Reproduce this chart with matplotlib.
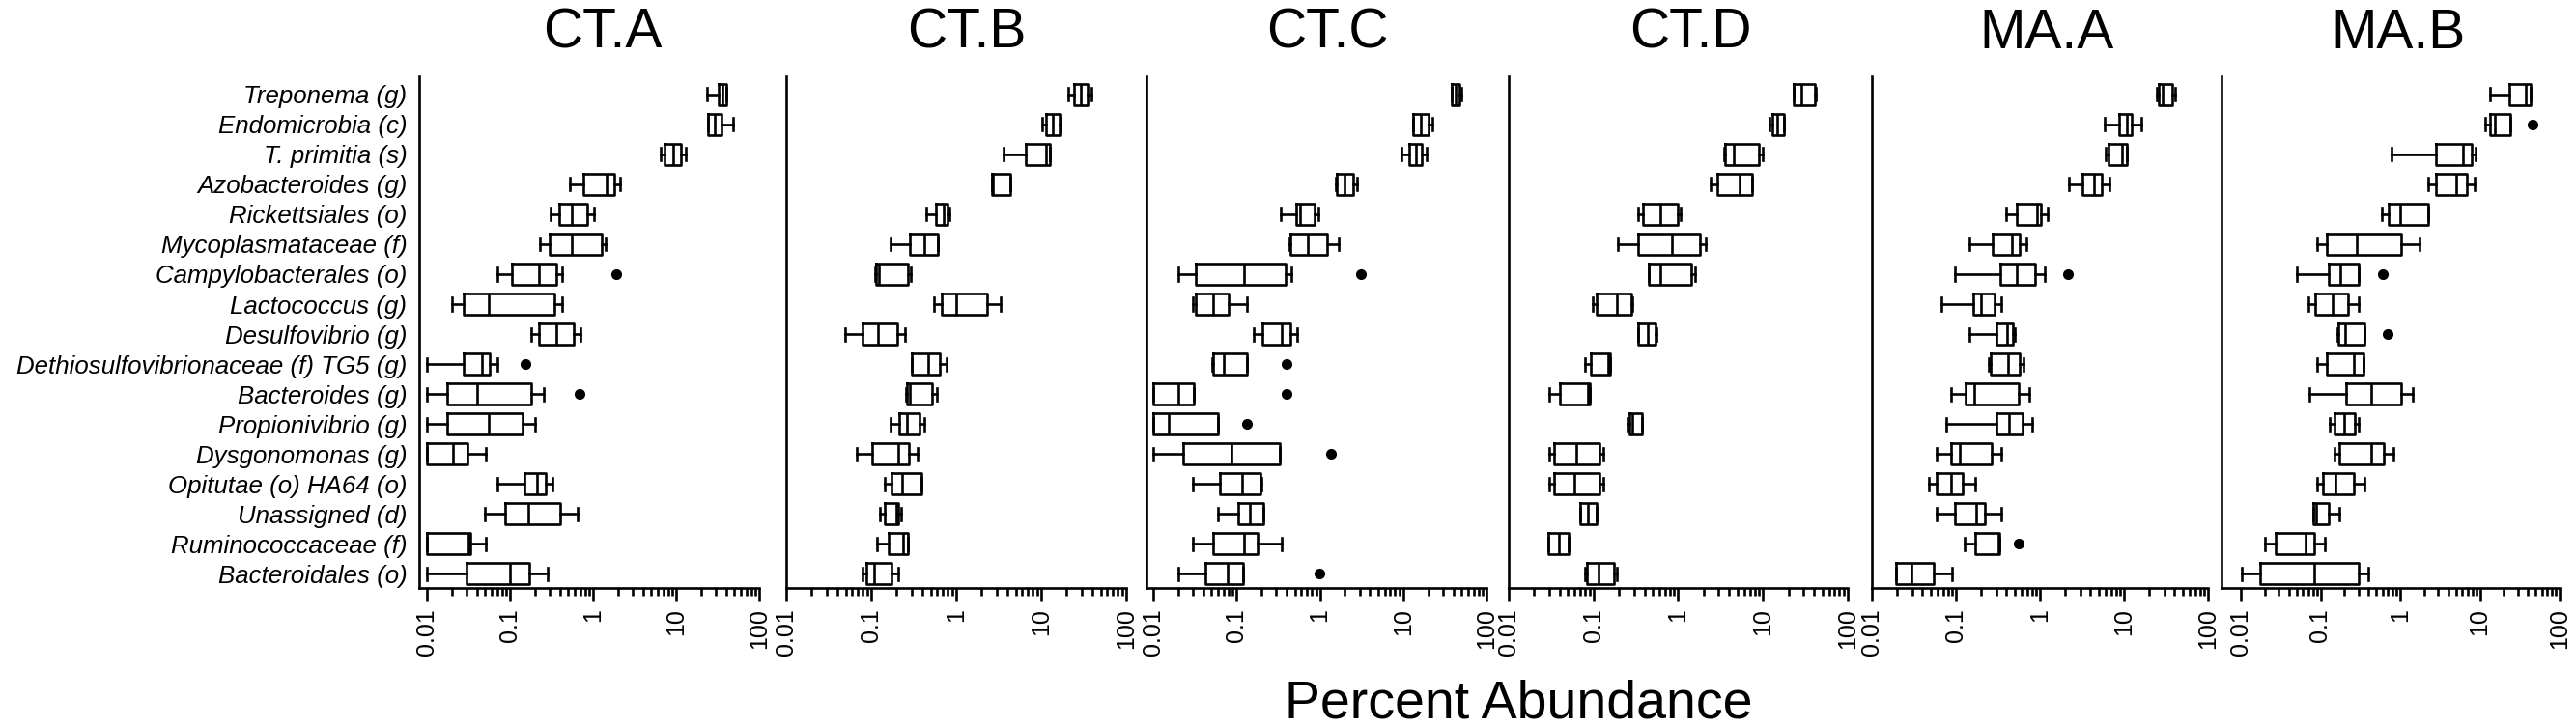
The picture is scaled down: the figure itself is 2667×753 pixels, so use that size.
import numpy as np
import matplotlib
matplotlib.use("Agg")
import matplotlib.pyplot as plt

plt.rcParams['font.family'] = ['Liberation Sans', 'DejaVu Sans']

taxa = ["Treponema (g)", "Endomicrobia (c)", "T. primitia (s)", "Azobacteroides (g)",
        "Rickettsiales (o)", "Mycoplasmataceae (f)", "Campylobacterales (o)",
        "Lactococcus (g)", "Desulfovibrio (g)", "Dethiosulfovibrionaceae (f) TG5 (g)",
        "Bacteroides (g)", "Propionivibrio (g)", "Dysgonomonas (g)",
        "Opitutae (o) HA64 (o)", "Unassigned (d)", "Ruminococcaceae (f)",
        "Bacteroidales (o)"]

panels = ["CT.A", "CT.B", "CT.C", "CT.D", "MA.A", "MA.B"]

# (whisker low, q1, median, q3, whisker high) per taxon, percent abundance
cta = [(23.8, 32.8, 36.5, 40.6, 40.6), (24.2, 24.4, 29.2, 34.9, 49.0),
       (6.53, 7.2, 9.17, 11.5, 12.9), (0.519, 0.769, 1.47, 1.81, 2.12),
       (0.31, 0.39, 0.55, 0.86, 1.04), (0.231, 0.30, 0.56, 1.26, 1.41),
       (0.070, 0.105, 0.223, 0.36, 0.42), (0.020, 0.0274, 0.0558, 0.339, 0.42),
       (0.178, 0.223, 0.357, 0.578, 0.70), (0.010, 0.0274, 0.0455, 0.0569, 0.0711),
       (0.010, 0.0175, 0.0405, 0.178, 0.255), (0.010, 0.0175, 0.0558, 0.1426, 0.202),
       (0.010, 0.010, 0.0206, 0.0305, 0.0512), (0.070, 0.1476, 0.213, 0.266, 0.327),
       (0.0502, 0.0865, 0.1675, 0.40, 0.643), (0.010, 0.010, 0.0318, 0.0334, 0.0512),
       (0.010, 0.0296, 0.100, 0.170, 0.283)]
ctb = [(20.8, 24.5, 29.2, 34.8, 39.0), (10.2, 11.5, 13.7, 16.3, 17.0),
       (3.62, 6.62, 11.5, 12.5, 12.7), (2.60, 2.60, 2.69, 4.32, 4.32),
       (0.446, 0.579, 0.72, 0.80, 0.836), (0.168, 0.286, 0.42, 0.605, 0.605),
       (0.110, 0.113, 0.122, 0.268, 0.293), (0.541, 0.684, 1.0, 2.34, 3.32),
       (0.049, 0.0793, 0.119, 0.201, 0.253), (0.30, 0.30, 0.474, 0.638, 0.766),
       (0.257, 0.264, 0.286, 0.518, 0.59), (0.168, 0.214, 0.264, 0.374, 0.42),
       (0.068, 0.103, 0.21, 0.279, 0.349), (0.146, 0.174, 0.23, 0.388, 0.388),
       (0.126, 0.146, 0.198, 0.207, 0.226), (0.118, 0.162, 0.236, 0.269, 0.269),
       (0.0793, 0.0879, 0.109, 0.171, 0.21)]
ctc = [(38.2, 38.2, 42.5, 47.3, 49.4), (13.1, 13.3, 16.2, 19.9, 22.4),
       (9.5, 11.8, 14.1, 16.7, 19.0), (1.57, 1.60, 1.96, 2.49, 2.80),
       (0.338, 0.515, 0.578, 0.855, 0.96), (0.43, 0.443, 0.716, 1.23, 1.67),
       (0.0202, 0.0324, 0.1236, 0.384, 0.45), (0.0302, 0.0324, 0.052, 0.0805, 0.135),
       (0.1615, 0.2056, 0.344, 0.4386, 0.538), (0.0507, 0.053, 0.0705, 0.1315, 0.135),
       (0.010, 0.010, 0.0202, 0.031, 0.031), (0.010, 0.010, 0.0155, 0.0605, 0.0605),
       (0.010, 0.0227, 0.088, 0.33, 0.33), (0.0302, 0.0633, 0.116, 0.196, 0.2),
       (0.0605, 0.1034, 0.144, 0.207, 0.211), (0.0302, 0.053, 0.1236, 0.181, 0.344),
       (0.0202, 0.0424, 0.0771, 0.120, 0.12)]
ctd = [(23.0, 23.0, 28.1, 41.0, 42.4), (12.0, 13.0, 14.9, 17.8, 17.9),
       (3.45, 3.54, 4.48, 9.02, 10.0), (2.43, 2.89, 5.25, 7.45, 7.5),
       (0.333, 0.38, 0.61, 1.0, 1.06), (0.196, 0.333, 0.835, 1.82, 2.13),
       (0.453, 0.453, 0.61, 1.41, 1.6), (0.098, 0.109, 0.189, 0.28, 0.29),
       (0.34, 0.34, 0.434, 0.54, 0.55), (0.0788, 0.094, 0.148, 0.157, 0.157),
       (0.0299, 0.0398, 0.0853, 0.0899, 0.0899), (0.25, 0.266, 0.285, 0.371, 0.371),
       (0.0299, 0.034, 0.0633, 0.1167, 0.1296), (0.0299, 0.034, 0.059, 0.1167, 0.1296),
       (0.0691, 0.0704, 0.086, 0.109, 0.110), (0.0293, 0.0293, 0.0391, 0.0505, 0.0505),
       (0.080, 0.0838, 0.1138, 0.176, 0.189)]
maa = [(24.3, 25.9, 29.0, 37.5, 40.3), (5.93, 8.74, 10.7, 12.4, 15.9),
       (6.03, 6.59, 9.55, 10.7, 10.9), (2.19, 3.17, 4.43, 5.38, 6.77),
       (0.397, 0.523, 0.92, 1.03, 1.25), (0.144, 0.274, 0.466, 0.58, 0.694),
       (0.0975, 0.342, 0.532, 0.879, 1.13), (0.068, 0.1615, 0.201, 0.292, 0.351),
       (0.144, 0.30, 0.408, 0.479, 0.509), (0.244, 0.258, 0.415, 0.58, 0.646),
       (0.087, 0.132, 0.166, 0.556, 0.738), (0.0777, 0.30, 0.434, 0.618, 0.813),
       (0.0585, 0.087, 0.110, 0.267, 0.351), (0.0482, 0.0585, 0.087, 0.1207, 0.169),
       (0.0585, 0.0975, 0.176, 0.22, 0.351), (0.126, 0.169, 0.321, 0.327, 0.327),
       (0.0194, 0.0194, 0.0294, 0.0544, 0.0893)]
mab = [(13.5, 23.6, 37.6, 43.3, 43.3), (11.5, 13.5, 15.3, 24.3, 24.3),
       (0.771, 2.78, 6.14, 7.96, 8.73), (2.27, 2.78, 5.0, 6.86, 8.65),
       (0.589, 0.709, 1.0, 2.25, 2.25), (0.0916, 0.121, 0.285, 1.03, 1.75),
       (0.05, 0.1256, 0.175, 0.304, 0.304), (0.0705, 0.0849, 0.1418, 0.221, 0.304),
       (0.163, 0.1675, 0.2056, 0.3527, 0.3527), (0.0916, 0.121, 0.264, 0.343, 0.346),
       (0.0719, 0.211, 0.433, 1.02, 1.42), (0.129, 0.151, 0.2, 0.272, 0.304),
       (0.1485, 0.1706, 0.433, 0.628, 0.83), (0.0916, 0.107, 0.1556, 0.26, 0.36),
       (0.081, 0.081, 0.089, 0.1267, 0.174), (0.0201, 0.0273, 0.0655, 0.0834, 0.1123),
       (0.0102, 0.0175, 0.0826, 0.2985, 0.394)]

# outlying points: (taxon, value)
cta_out = [("Campylobacterales (o)", 1.88), ("Dethiosulfovibrionaceae (f) TG5 (g)", 0.152),
           ("Bacteroides (g)", 0.68)]
ctb_out = []
ctc_out = [("Campylobacterales (o)", 3.15), ("Dethiosulfovibrionaceae (f) TG5 (g)", 0.393),
           ("Bacteroides (g)", 0.393), ("Propionivibrio (g)", 0.133),
           ("Dysgonomonas (g)", 1.35), ("Bacteroidales (o)", 0.987)]
ctd_out = []
maa_out = [("Campylobacterales (o)", 2.15), ("Ruminococcaceae (f)", 0.556)]
mab_out = [("Endomicrobia (c)", 45.4), ("Campylobacterales (o)", 0.611),
           ("Desulfovibrio (g)", 0.689)]

xticks = [0.01, 0.1, 1, 10, 100]
xticklabels = ["0.01", "0.1", "1", "10", "100"]

# layout, in pixels of the 2667x753 picture
W, H = 2667, 753
spine_px = [434, 814, 1187, 1562, 1938, 2300, W]
x001_px = [442, 814, 1194, 1562, 1938, 2320]
x100_px = [786, 1166, 1539, 1913, 2286, 2650]
top_px, bot_px = 79, 609


def make_stats(rows, outs):
    stats = []
    for name, (lo, q1, med, q3, hi) in zip(taxa, rows):
        fl = [v for n, v in outs if n == name]
        stats.append(dict(whislo=lo, q1=q1, med=med, q3=q3, whishi=hi, fliers=fl))
    return stats


fig = plt.figure(figsize=(W / 100, H / 100), dpi=100)

data = [cta, ctb, ctc, ctd, maa, mab]
outs = [cta_out, ctb_out, ctc_out, ctd_out, maa_out, mab_out]
minor = [m * 10.0 ** e for e in range(-2, 2) for m in range(2, 10)]
lw = 1.9

for i, name in enumerate(panels):
    left, right = spine_px[i], spine_px[i + 1]
    ax = fig.add_axes([left / W, 1 - bot_px / H, (right - left) / W, (bot_px - top_px) / H])
    ax.set_xscale('log')
    dec = (x100_px[i] - x001_px[i]) / 4
    xlo = 10 ** (-2 - (x001_px[i] - left) / dec)
    xhi = 10 ** (2 + (right - x100_px[i]) / dec)

    ax.bxp(make_stats(data[i], outs[i]), positions=range(1, len(taxa) + 1),
           widths=0.72, capwidths=0.42, orientation='horizontal', manage_ticks=False,
           boxprops=dict(color='black', linewidth=lw),
           whiskerprops=dict(color='black', linewidth=lw),
           capprops=dict(color='black', linewidth=lw),
           medianprops=dict(color='black', linewidth=lw),
           flierprops=dict(marker='o', markerfacecolor='black', markeredgecolor='black',
                           markersize=7))

    ax.set_xlim(xlo, xhi)
    ax.set_ylim(len(taxa) + 0.48, 0.39)
    ax.spines['top'].set_visible(False)
    ax.spines['right'].set_visible(False)
    ax.spines['left'].set_linewidth(lw)
    ax.spines['bottom'].set_linewidth(lw)
    ax.spines['bottom'].set_bounds(xlo, 100)

    ax.set_xticks(xticks)
    ax.set_xticklabels(xticklabels, rotation=90, fontsize=18)
    ax.set_xticks(minor, minor=True)
    ax.xaxis.set_minor_formatter(matplotlib.ticker.NullFormatter())
    ax.tick_params(axis='x', which='major', length=10, width=lw, pad=5)
    ax.tick_params(axis='x', which='minor', length=6, width=lw)

    ax.set_yticks(range(1, len(taxa) + 1))
    if i == 0:
        ax.set_yticklabels(taxa, fontsize=18.6, style='italic')
    else:
        ax.set_yticklabels([])
    ax.tick_params(axis='y', length=0, pad=9)

    ax.set_title(name, fontsize=41, pad=21)

fig.text(1572 / W, 1 - 743 / H, "Percent Abundance", fontsize=40, ha='center',
         va='baseline')

fig.savefig("out.png", dpi=100)
